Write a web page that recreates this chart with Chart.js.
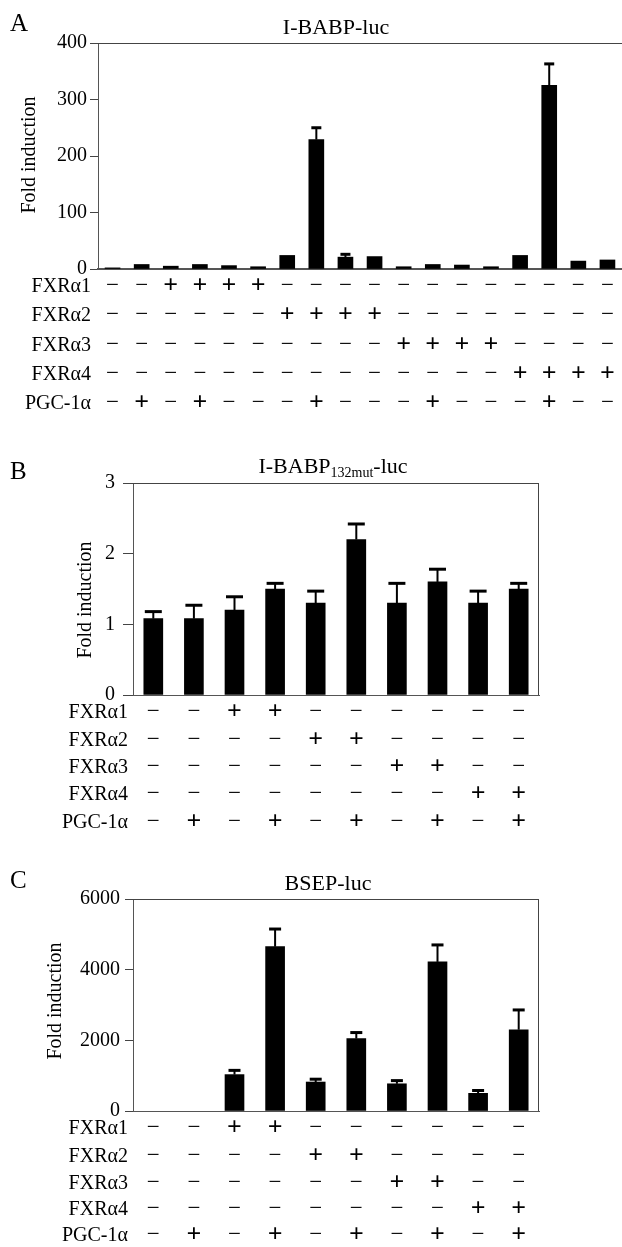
<!DOCTYPE html>
<html>
<head>
<meta charset="utf-8">
<script src="https://cdn.jsdelivr.net/npm/chart.js@4.4.1/dist/chart.umd.min.js"></script>
<style>
    html, body { margin: 0; padding: 0; background: #fff; overflow: hidden; }
    canvas { position: absolute; left: 0; }
</style>
</head>
<body>
<canvas id="chart-a" width="622" height="420" style="top:0px"></canvas>
<canvas id="chart-b" width="622" height="410" style="top:440px"></canvas>
<canvas id="chart-c" width="622" height="387" style="top:860px"></canvas>
<script>
var rowLabels = ['FXRα1', 'FXRα2', 'FXRα3', 'FXRα4', 'PGC-1α'];

// A : I-BABP-luc, 18 lanes
var lanesA = ['1', '2', '3', '4', '5', '6', '7', '8', '9', '10', '11', '12', '13', '14', '15', '16', '17', '18'];
var foldA = [2, 8, 5, 8, 6, 4, 24, 229, 21, 22, 4, 8, 7, 4, 24, 325, 14, 16];
var errA = [0, 0, 0, 0, 0, 0, 0, 21, 5, 0, 0, 0, 0, 0, 0, 38, 0, 0];
var ticksA = [0, 100, 200, 300, 400];
var fxr1A = '--++++------------';
var fxr2A = '------++++--------';
var fxr3A = '----------++++----';
var fxr4A = '--------------++++';
var pgcA = '-+-+---+---+---+--';

// B : I-BABP132mut-luc, 10 lanes
var lanesB = ['1', '2', '3', '4', '5', '6', '7', '8', '9', '10'];
var foldB = [1.08, 1.08, 1.2, 1.5, 1.3, 2.2, 1.3, 1.6, 1.3, 1.5];
var errB = [0.1, 0.19, 0.19, 0.08, 0.17, 0.22, 0.28, 0.18, 0.17, 0.08];
var ticksB = [0, 1, 2, 3];

// C : BSEP-luc, 10 lanes (no bar for the first two)
var lanesC = ['1', '2', '3', '4', '5', '6', '7', '8', '9', '10'];
var foldC = [null, null, 1030, 4650, 820, 2050, 770, 4220, 500, 2300];
var errC = [0, 0, 120, 500, 80, 170, 90, 480, 80, 560];
var ticksC = [0, 2000, 4000, 6000];

// same transfection scheme in B and C
var fxr1BC = '--++------';
var fxr2BC = '----++----';
var fxr3BC = '------++--';
var fxr4BC = '--------++';
var pgcBC = '-+-+-+-+-+';

var SERIF = '"Liberation Serif", "DejaVu Serif", serif';

function figurePlugin(p) {
    return {
        id: 'figure',
        afterDatasetsDraw: function (chart) {
            var ctx = chart.ctx;
            var y = chart.scales.y;
            var bars = chart.getDatasetMeta(0).data;
            ctx.save();
            ctx.strokeStyle = '#000';
            bars.forEach(function (bar, i) {
                var e = p.errors[i];
                if (!e || p.values[i] == null) return;
                var top = y.getPixelForValue(p.values[i] + e);
                ctx.lineWidth = 2;
                ctx.beginPath();
                ctx.moveTo(bar.x, bar.y);
                ctx.lineTo(bar.x, top);
                ctx.stroke();
                ctx.lineWidth = 3;
                ctx.beginPath();
                ctx.moveTo(bar.x - p.cap / 2, top);
                ctx.lineTo(bar.x + p.cap / 2, top);
                ctx.stroke();
            });
            ctx.restore();
        },
        afterDraw: function (chart) {
            var ctx = chart.ctx;
            var area = chart.chartArea;
            var x = chart.scales.x;
            ctx.save();

            // frame lines that chart.js does not draw
            ctx.strokeStyle = '#444';
            ctx.lineWidth = 1;
            ctx.beginPath();
            ctx.moveTo(area.left, area.top + 0.5);
            ctx.lineTo(area.right, area.top + 0.5);
            if (p.box) {
                ctx.moveTo(area.right - 0.5, area.top);
                ctx.lineTo(area.right - 0.5, area.bottom);
            }
            ctx.stroke();

            ctx.fillStyle = '#000';
            ctx.textBaseline = 'middle';

            // panel letter
            ctx.textAlign = 'left';
            ctx.font = '25px ' + SERIF;
            ctx.fillText(p.letter, 10, p.letterY);

            // title, possibly with subscript
            var widths = p.title.map(function (part) {
                ctx.font = (part.sub ? '14px ' : '22px ') + SERIF;
                return ctx.measureText(part.text).width;
            });
            var total = widths.reduce(function (a, b) { return a + b; }, 0);
            var tx = p.titleX - total / 2;
            p.title.forEach(function (part, i) {
                ctx.font = (part.sub ? '14px ' : '22px ') + SERIF;
                ctx.fillText(part.text, tx, p.titleY + (part.sub ? 6 : 0));
                tx += widths[i];
            });

            // y axis title
            ctx.save();
            ctx.translate(p.yTitleX, p.yTitleY);
            ctx.rotate(-Math.PI / 2);
            ctx.textAlign = 'center';
            ctx.font = '20px ' + SERIF;
            ctx.fillText('Fold induction', 0, 0);
            ctx.restore();

            // +/- table under the bars
            p.rows.forEach(function (row, r) {
                var ry = area.bottom + p.rowOffsets[r];
                ctx.textAlign = 'right';
                ctx.font = '20px ' + SERIF;
                ctx.fillText(rowLabels[r], p.rowLabelX, ry);
                ctx.textAlign = 'center';
                row.split('').forEach(function (sign, i) {
                    var cx = x.getPixelForValue(i);
                    if (sign === '+') {
                        ctx.font = 'bold 26px ' + SERIF;
                        ctx.fillText('+', cx, ry - 1);
                    } else {
                        ctx.font = '23px ' + SERIF;
                        ctx.fillText('\u2212', cx, ry - 1);
                    }
                });
            });

            ctx.restore();
        }
    };
}

function makePanel(id, p) {
    return new Chart(document.getElementById(id), {
        type: 'bar',
        data: {
            labels: p.labels,
            datasets: [{
                data: p.values,
                backgroundColor: '#000',
                borderWidth: 0,
                barThickness: p.barWidth
            }]
        },
        options: {
            responsive: false,
            animation: false,
            layout: { padding: p.padding },
            plugins: {
                legend: { display: false },
                tooltip: { enabled: false },
                title: { display: false }
            },
            scales: {
                x: {
                    type: 'category',
                    grid: { display: false },
                    ticks: { display: false },
                    border: { display: true, color: '#555', width: p.baseWidth },
                    afterFit: function (scale) { scale.height = 0; }
                },
                y: {
                    min: p.ticks[0],
                    max: p.ticks[p.ticks.length - 1],
                    afterBuildTicks: function (scale) {
                        scale.ticks = p.ticks.map(function (v) { return { value: v }; });
                    },
                    grid: {
                        drawOnChartArea: false,
                        drawTicks: true,
                        tickLength: p.tickLength,
                        color: '#444'
                    },
                    border: { display: true, color: '#555', width: 1 },
                    ticks: {
                        color: '#000',
                        padding: p.tickPadding,
                        font: { family: SERIF, size: 20 },
                        callback: function (value) { return String(value); }
                    },
                    afterFit: function (scale) { scale.width = p.axisLeft; }
                }
            }
        },
        plugins: [figurePlugin(p)]
    });
}

makePanel('chart-a', {
    labels: lanesA, values: foldA, errors: errA, ticks: ticksA,
    rows: [fxr1A, fxr2A, fxr3A, fxr4A, pgcA],
    rowOffsets: [18, 47, 77, 106, 135], rowLabelX: 91,
    padding: { top: 43, right: 0, bottom: 151, left: 0 },
    axisLeft: 98, tickLength: 8, tickPadding: 3, barWidth: 15, cap: 10, baseWidth: 2,
    box: false,
    letter: 'A', letterY: 24,
    title: [{ text: 'I-BABP-luc' }], titleX: 336, titleY: 28,
    yTitleX: 30, yTitleY: 155
});

makePanel('chart-b', {
    labels: lanesB, values: foldB, errors: errB, ticks: ticksB,
    rows: [fxr1BC, fxr2BC, fxr3BC, fxr4BC, pgcBC],
    rowOffsets: [18, 46, 73, 100, 128], rowLabelX: 128,
    padding: { top: 43, right: 83, bottom: 155, left: 0 },
    axisLeft: 133, tickLength: 10, tickPadding: 8, barWidth: 19, cap: 17, baseWidth: 1,
    box: true,
    letter: 'B', letterY: 32,
    title: [{ text: 'I-BABP' }, { text: '132mut', sub: true }, { text: '-luc' }], titleX: 333, titleY: 27,
    yTitleX: 86, yTitleY: 160
});

makePanel('chart-c', {
    labels: lanesC, values: foldC, errors: errC, ticks: ticksC,
    rows: [fxr1BC, fxr2BC, fxr3BC, fxr4BC, pgcBC],
    rowOffsets: [18, 46, 73, 99, 125], rowLabelX: 128,
    padding: { top: 39, right: 83, bottom: 136, left: 0 },
    axisLeft: 133, tickLength: 8, tickPadding: 5, barWidth: 19, cap: 12, baseWidth: 1,
    box: true,
    letter: 'C', letterY: 21,
    title: [{ text: 'BSEP-luc' }], titleX: 328, titleY: 24,
    yTitleX: 56, yTitleY: 141
});
</script>
</body>
</html>
